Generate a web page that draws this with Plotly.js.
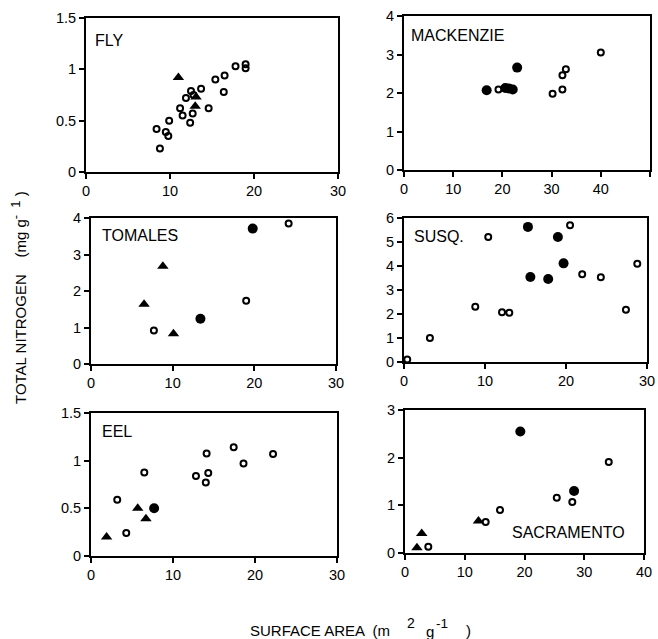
<!DOCTYPE html>
<html>
<head>
<meta charset="utf-8">
<script src="https://cdn.plot.ly/plotly-3.0.1.min.js"></script>
<style>html,body{margin:0;padding:0;background:#fff;}#chart{width:658px;height:639px;}</style>
</head>
<body>
<div id="chart"></div>
<script>
// ---- data (surface area m2/g, total nitrogen mg/g) ----
const panelNames = ["FLY", "MACKENZIE", "TOMALES", "SUSQ.", "EEL", "SACRAMENTO"];

const flyOpenX = [8.4, 8.8, 9.5, 9.8, 9.9, 11.2, 11.5, 11.9, 12.4, 12.5, 12.7, 12.8, 13.7, 14.6, 15.4, 16.5, 16.4, 17.8, 19.0, 19.0];
const flyOpenY = [0.42, 0.23, 0.39, 0.35, 0.50, 0.62, 0.55, 0.72, 0.48, 0.79, 0.57, 0.75, 0.81, 0.62, 0.90, 0.94, 0.78, 1.03, 1.05, 1.01];
const flyTriX = [11.0, 13.1, 13.0];
const flyTriY = [0.92, 0.73, 0.64];

const mackOpenX = [19.2, 30.2, 32.2, 32.2, 32.9, 40.0];
const mackOpenY = [2.09, 1.98, 2.09, 2.46, 2.62, 3.05];
const mackFillX = [16.8, 20.6, 21.3, 22.1, 23.0];
const mackFillY = [2.07, 2.13, 2.12, 2.09, 2.66];

const tomOpenX = [7.7, 19.0, 24.2];
const tomOpenY = [0.92, 1.73, 3.85];
const tomFillX = [13.4, 19.8];
const tomFillY = [1.24, 3.71];
const tomTriX = [6.5, 8.8, 10.1];
const tomTriY = [1.64, 2.68, 0.83];

const susOpenX = [0.4, 3.2, 8.8, 10.4, 12.1, 13.0, 20.5, 22.0, 24.3, 27.4, 28.8];
const susOpenY = [0.10, 1.00, 2.30, 5.21, 2.07, 2.05, 5.70, 3.66, 3.53, 2.18, 4.09];
const susFillX = [15.3, 15.6, 17.8, 19.0, 19.7];
const susFillY = [5.63, 3.54, 3.46, 5.21, 4.11];

const eelOpenX = [3.2, 4.3, 6.5, 12.8, 14.0, 14.1, 14.3, 17.4, 18.6, 22.2];
const eelOpenY = [0.59, 0.24, 0.875, 0.84, 0.77, 1.075, 0.87, 1.14, 0.97, 1.07];
const eelFillX = [7.7];
const eelFillY = [0.50];
const eelTriX = [1.9, 5.7, 6.7];
const eelTriY = [0.20, 0.50, 0.39];

const sacOpenX = [3.9, 13.5, 15.9, 25.4, 28.0, 34.1];
const sacOpenY = [0.13, 0.65, 0.90, 1.16, 1.07, 1.91];
const sacFillX = [19.3, 28.3];
const sacFillY = [2.55, 1.30];
const sacTriX = [2.8, 2.0, 12.3];
const sacTriY = [0.41, 0.11, 0.67];

const xTicks = [[0,10,20,30],[0,10,20,30,40,50],[0,10,20,30],[0,10,20,30],[0,10,20,30],[0,10,20,30,40]];
const yTicks = [[0,0.5,1,1.5],[0,1,2,3,4],[0,1,2,3,4],[0,1,2,3,4,5,6],[0,0.5,1,1.5],[0,1,2,3]];
const yTickText = [["0","0.5","1","1.5"],["0","1","2","3","4"],["0","1","2","3","4"],["0","1","2","3","4","5","6"],["0","0.5","1","1.5"],["0","1","2","3"]];
const xRanges = [[0,30],[0,50],[0,30],[0,30],[0,30],[0,40]];
const yRanges = [[0,1.5],[0,4],[0,4],[0,6],[0,1.5],[0,3]];
// x-axis title pieces: [text, centre-or-left x px, y px, size, anchor]
const xTitleParts = [
  ["SURFACE AREA  (m", 248, 630, 15, 'left'],
  ["2", 411, 623, 14, 'center'],
  ["g", 430, 631, 15, 'center'],
  ["-1", 442, 623, 13.5, 'center'],
  [")", 468, 630, 15, 'center']
];
const yTitle = "TOTAL NITROGEN    (mg g<sup><span style='font-size:13px'>-  1</span></sup> )";

// ---- layout geometry (pixels) ----
const W = 658, H = 639;
const boxes = [
  [86, 338, 18, 172],
  [404, 650, 16, 170],
  [91, 336, 218, 364],
  [404, 647, 218, 362],
  [91, 337, 413, 556],
  [405, 644, 410, 553]
];
const labelPos = [
  [93, 40, 'left'], [409, 35, 'left'], [100, 235, 'left'],
  [412, 236, 'left'], [100, 431, 'left'], [627, 532, 'right']
];

const openM = {symbol: 'circle-open', size: 6, color: '#000', line: {width: 2, color: '#000'}};
const fillM = {symbol: 'circle', size: 10, color: '#000'};
const triM = {symbol: 'triangle-up', size: 10, color: '#000'};

const traces = [];
function add(i, xs, ys, m) {
  const s = i === 0 ? '' : String(i + 1);
  traces.push({x: xs, y: ys, type: 'scatter', mode: 'markers', marker: m,
    xaxis: 'x' + s, yaxis: 'y' + s, showlegend: false, cliponaxis: false, hoverinfo: 'x+y'});
}
add(0, flyOpenX, flyOpenY, openM); add(0, flyTriX, flyTriY, triM);
add(1, mackOpenX, mackOpenY, openM); add(1, mackFillX, mackFillY, fillM);
add(2, tomOpenX, tomOpenY, openM); add(2, tomFillX, tomFillY, fillM); add(2, tomTriX, tomTriY, triM);
add(3, susOpenX, susOpenY, openM); add(3, susFillX, susFillY, fillM);
add(4, eelOpenX, eelOpenY, openM); add(4, eelFillX, eelFillY, fillM); add(4, eelTriX, eelTriY, triM);
add(5, sacOpenX, sacOpenY, openM); add(5, sacFillX, sacFillY, fillM); add(5, sacTriX, sacTriY, triM);

const fam = 'Liberation Sans, Arial, Helvetica, sans-serif';
const layout = {
  width: W, height: H,
  margin: {l: 0, r: 0, t: 0, b: 0},
  paper_bgcolor: '#fff', plot_bgcolor: '#fff',
  font: {family: fam, size: 14, color: '#000'}, showlegend: false,
  annotations: []
};
boxes.forEach((b, i) => {
  const s = i === 0 ? '' : String(i + 1);
  const common = {
    showgrid: false, zeroline: false, showline: true, mirror: true, linewidth: 2, linecolor: '#000',
    ticks: 'outside', ticklen: 5, tickwidth: 2, tickcolor: '#000',
    tickfont: {family: fam, size: 14.5, color: '#000'}, fixedrange: true
  };
  layout['xaxis' + s] = Object.assign({
    domain: [b[0] / W, b[1] / W], range: xRanges[i], tickvals: xTicks[i], anchor: 'y' + s
  }, common);
  layout['yaxis' + s] = Object.assign({
    domain: [1 - b[3] / H, 1 - b[2] / H], range: yRanges[i], tickvals: yTicks[i], ticktext: yTickText[i], anchor: 'x' + s
  }, common);
  const lp = labelPos[i];
  layout.annotations.push({
    text: panelNames[i], xref: 'paper', yref: 'paper', x: lp[0] / W, y: 1 - lp[1] / H,
    xanchor: lp[2], yanchor: 'middle', showarrow: false,
    font: {family: fam, size: 16, color: '#000'}
  });
});
xTitleParts.forEach(p => {
  layout.annotations.push({
    text: p[0], xref: 'paper', yref: 'paper', x: p[1] / W, y: 1 - p[2] / H,
    xanchor: p[4], yanchor: 'middle', showarrow: false,
    font: {family: fam, size: p[3], color: '#000'}
  });
});
layout.annotations.push({
  text: yTitle, xref: 'paper', yref: 'paper', x: 18 / W, y: 1 - 298 / H,
  xanchor: 'center', yanchor: 'middle', showarrow: false, textangle: -90,
  font: {family: fam, size: 15, color: '#000'}
});

Plotly.newPlot('chart', traces, layout, {displayModeBar: false, staticPlot: true});
</script>
</body>
</html>
